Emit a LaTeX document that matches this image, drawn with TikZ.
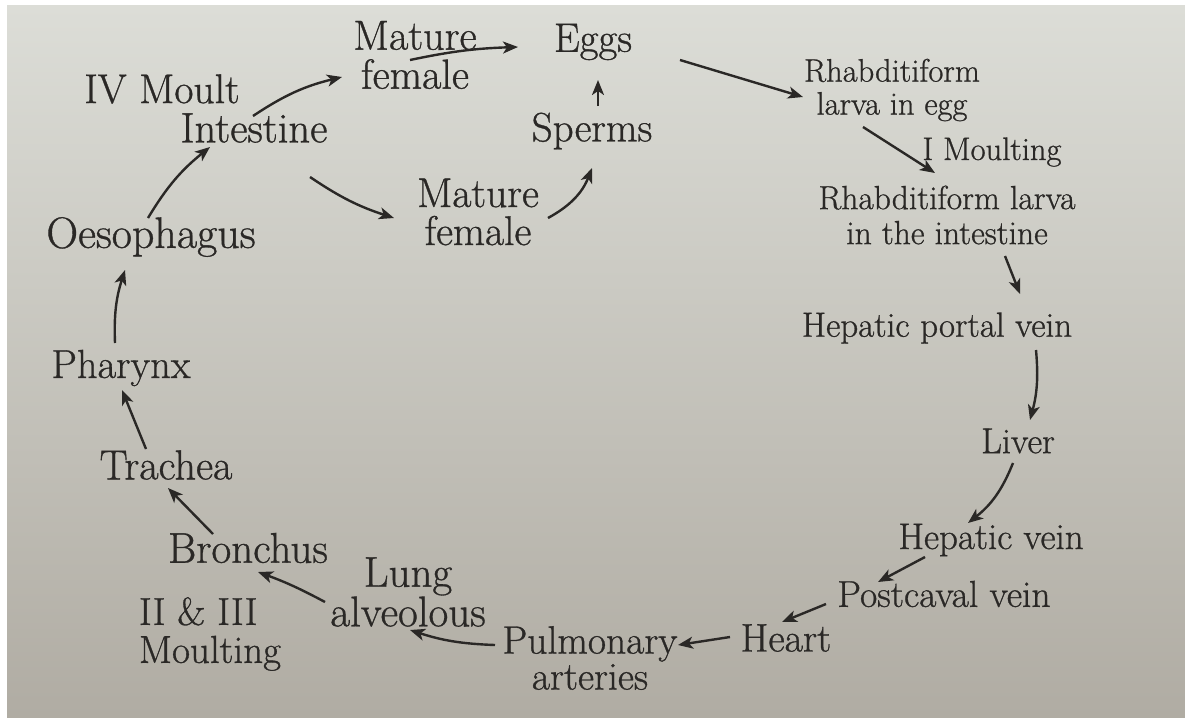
\documentclass[tikz,border=0pt]{standalone}
\usepackage{fontspec}
\setmainfont{Latin Modern Roman}[FakeBold=0.8]
\usetikzlibrary{arrows.meta,calc}
\definecolor{ink}{HTML}{2A2826}
\definecolor{papertop}{HTML}{DCDDD7}
\definecolor{papermid}{HTML}{CFCFC9}
\definecolor{paperbot}{HTML}{B0ACA3}
\begin{document}
\begin{tikzpicture}[x=1pt,y=1pt,
  lbl/.style={text=ink, inner sep=0pt, align=center},
  fs/.style 2 args={font=\fontsize{#1}{#2}\selectfont},
  arr/.style={draw=ink, line width=2.4pt, -{Stealth[length=15pt,width=12pt,inset=4pt]}}]
\useasboundingbox (0,0) rectangle (1185,-717);
\fill[white] (0,0) rectangle (1185,-717);
\shade[top color=papertop, middle color=papermid, bottom color=paperbot] (7,-6) rectangle (1185,-717);
% nodes
\node[lbl,fs={42}{39}] (mfA) at (415,-55) {Mature\\female};
\node[lbl,fs={41}{40}] (eggs) at (593,-42) {Eggs};
\node[lbl,fs={41}{40}] (sperms) at (592,-131) {Sperms};
\node[lbl,fs={41.5}{40}] (iv) at (162,-89) {IV Moult};
\node[lbl,fs={42.5}{40}] (intest) at (254,-128) {Intestine};
\node[lbl,fs={41.5}{38}] (mfB) at (478,-212) {Mature\\female};
\node[lbl,fs={44}{40}] (oeso) at (151,-237) {Oesophagus};
\node[lbl,fs={40.5}{40}] (phar) at (121,-368) {Pharynx};
\node[lbl,fs={42}{40}] (trach) at (166,-465) {Trachea};
\node[lbl,fs={43}{40}] (bron) at (248,-548) {Bronchus};
\node[lbl,fs={39}{38},align=left] (m23) at (210,-634) {II \& III\\Moulting};
\node[lbl,fs={43}{35}] (lung) at (408,-592) {Lung\\alveolous};
\node[lbl,fs={39.5}{36}] (pulm) at (590,-658) {Pulmonary\\arteries};
\node[lbl,fs={40}{40}] (heart) at (786,-638) {Heart};
\node[lbl,fs={37.5}{40}] (postc) at (944,-594) {Postcaval vein};
\node[lbl,fs={37}{40}] (hepv) at (991,-540) {Hepatic vein};
\node[lbl,fs={36}{40}] (liver) at (1018,-441) {Liver};
\node[lbl,fs={35}{40}] (hpv) at (937,-328) {Hepatic portal vein};
\node[lbl,fs={33.5}{35}] (rlint) at (947,-215) {Rhabditiform larva\\in the intestine};
\node[lbl,fs={32.5}{40}] (imoult) at (992,-152) {I Moulting};
\node[lbl,fs={32.5}{33}] (rlegg) at (892,-90) {Rhabditiform\\larva in egg};
% connectors
\draw[arr] ($(mfA)+(-5,-5)$) to[bend left=5] ($(eggs)+(-75,-5)$);
\draw[arr] ($(sperms)+(6,25)$) -- ($(eggs)+(5,-38)$);
\draw[arr] ($(eggs)+(87,-18)$) -- ($(rlegg)+(-89,-7)$);
\draw[arr] ($(rlegg)+(-29,-37)$) -- ($(rlint)+(-12,42)$);
\draw[arr] ($(rlint)+(58,-41)$) -- ($(hpv)+(83,34)$);
\draw[arr] ($(hpv)+(99,-22)$) to[bend left=10] ($(liver)+(12,21)$);
\draw[arr] ($(liver)+(-5,-22)$) to[bend left=15] ($(hepv)+(-23,17)$);
\draw[arr] ($(hepv)+(-66,-17)$) -- ($(postc)+(-66,12)$);
\draw[arr] ($(postc)+(-118,-10)$) -- ($(heart)+(-4,16)$);
\draw[arr] ($(heart)+(-56,1)$) -- ($(pulm)+(88,13)$);
\draw[arr] ($(pulm)+(-95,13)$) to[bend left=8] ($(lung)+(2,-38)$);
\draw[arr] ($(lung)+(-83,-10)$) to[bend right=4] ($(bron)+(10,-24)$);
\draw[arr] ($(bron)+(-35,14)$) -- ($(trach)+(2,-23)$);
\draw[arr] ($(trach)+(-20,16)$) -- ($(phar)+(1,-22)$);
\draw[arr] ($(phar)+(-6,25)$) to[bend left=10] ($(oeso)+(-26,-33)$);
\draw[arr] ($(oeso)+(-3,19)$) to[bend left=10] ($(intest)+(-44,-19)$);
\draw[arr] ($(intest)+(-1,12)$) to[bend left=10] ($(mfA)+(-73,-22)$);
\draw[arr] ($(intest)+(56,-49)$) to[bend right=8] ($(mfB)+(-84,-6)$);
\draw[arr] ($(mfB)+(70,-6)$) to[bend right=20] ($(sperms)+(0,-37)$);
\end{tikzpicture}
\end{document}
